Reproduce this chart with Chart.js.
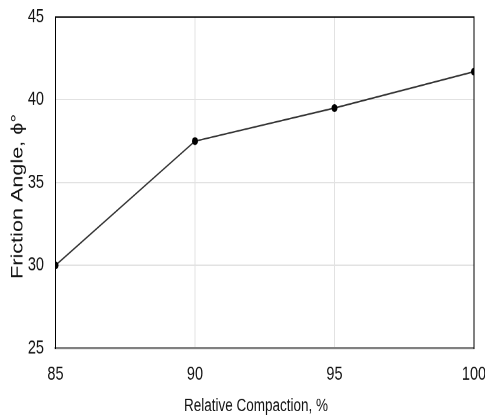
<!DOCTYPE html>
<html>
<head>
<meta charset="utf-8">
<script src="https://cdn.jsdelivr.net/npm/chart.js@4.4.1/dist/chart.umd.min.js"></script>
<style>
html,body{margin:0;padding:0;background:#fff;}
canvas{display:block;}
</style>
</head>
<body>
<canvas id="c" width="485" height="320" style="width:485px;height:419px;"></canvas>
<script>
const compaction = [85, 90, 95, 100];
const frictionAngle = [30, 37.5, 39.5, 41.7];
const xTicks = [85, 90, 95, 100];
const yTicks = [25, 30, 35, 40, 45];
const xTitle = 'Relative Compaction, %';
const yTitle = 'Friction Angle, \u03D5\u00B0';

const FONT = '"Liberation Sans", Arial, sans-serif';
const TXT = '#141414';

const titlesPlugin = {
  id: 'titles',
  afterDraw(chart) {
    const ctx = chart.ctx;
    ctx.save();
    ctx.fillStyle = TXT;
    ctx.textAlign = 'center';
    ctx.textBaseline = 'middle';
    ctx.font = '13.5px ' + FONT;
    ctx.fillText(xTitle, 256, 310.5);
    ctx.translate(18, 150);
    ctx.rotate(-Math.PI / 2);
    ctx.font = '16.5px ' + FONT;
    ctx.fillText(yTitle, 0, 0);
    ctx.restore();
  }
};

function zeroPad(s) { s.paddingLeft = 0; s.paddingRight = 0; s.paddingTop = 0; s.paddingBottom = 0; }

new Chart(document.getElementById('c'), {
  type: 'line',
  data: {
    datasets: [{
      data: compaction.map((x, i) => ({ x: x, y: frictionAngle[i] })),
      borderColor: '#333333',
      borderWidth: 1.2,
      pointRadius: 3,
      pointBackgroundColor: '#000',
      pointBorderWidth: 0,
      tension: 0,
      fill: false
    }]
  },
  options: {
    responsive: false,
    devicePixelRatio: 2,
    animation: false,
    events: [],
    layout: { padding: { top: 13, right: 11, left: 0, bottom: 0 } },
    plugins: { legend: { display: false }, tooltip: { enabled: false } },
    scales: {
      x: {
        type: 'linear',
        position: 'bottom',
        min: 85, max: 100,
        afterBuildTicks: s => { s.ticks = xTicks.map(v => ({ value: v })); },
        afterFit: s => { s.height = 54.2; zeroPad(s); },
        ticks: { padding: 11.5, color: TXT, font: { family: FONT, size: 14.5 }, maxRotation: 0 },
        grid: { color: '#e2e2e2', lineWidth: 1, drawTicks: false },
        border: { color: '#808080', width: 1.6 }
      },
      x2: {
        type: 'linear',
        position: 'top',
        min: 85, max: 100,
        afterFit: s => { s.height = 0; zeroPad(s); },
        ticks: { display: false },
        grid: { display: false, drawTicks: false },
        border: { color: '#000', width: 1 }
      },
      y: {
        type: 'linear',
        position: 'left',
        min: 25, max: 45,
        afterBuildTicks: s => { s.ticks = yTicks.map(v => ({ value: v })); },
        afterFit: s => { s.width = 55.5; zeroPad(s); },
        ticks: { padding: 11.5, color: TXT, font: { family: FONT, size: 14.5 } },
        grid: { color: '#e2e2e2', lineWidth: 1, drawTicks: false },
        border: { color: '#000', width: 1 }
      },
      y2: {
        type: 'linear',
        position: 'right',
        min: 25, max: 45,
        afterFit: s => { s.width = 0; zeroPad(s); },
        ticks: { display: false },
        grid: { display: false, drawTicks: false },
        border: { color: '#000', width: 1 }
      }
    }
  },
  plugins: [titlesPlugin]
});
</script>
</body>
</html>
